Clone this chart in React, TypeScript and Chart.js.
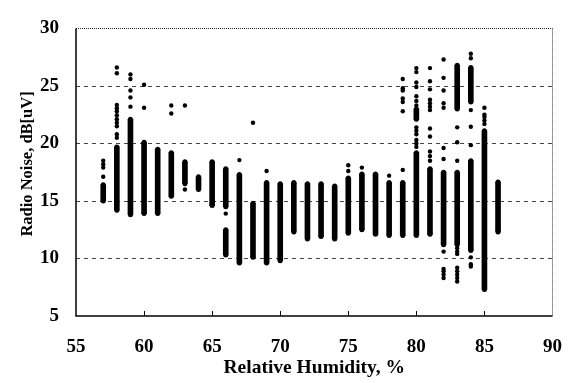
import React, { useEffect, useRef } from "react";
import { Chart, registerables } from "chart.js";

Chart.register(...registerables);

// Axis ticks
const humidityTicks = [55, 60, 65, 70, 75, 80, 85, 90];
const noiseTicks = [5, 10, 15, 20, 25, 30];
const gridNoise = [10, 15, 20, 25];

// Dense (continuous-looking) runs of points: humidity, low, high
const segHumidity = [57, 58, 59, 60, 61, 62, 63, 64, 65, 66, 66, 67, 68, 69, 70, 71, 72, 73, 74, 75, 76, 77, 78, 79, 80, 80, 81, 82, 83, 83, 84, 84, 85, 86];
const segLow = [15.0, 14.2, 13.8, 13.9, 13.9, 15.4, 16.5, 16.0, 14.6, 14.5, 10.3, 9.6, 10.1, 9.6, 9.8, 12.3, 11.7, 11.9, 11.7, 12.2, 12.5, 12.1, 12.0, 12.0, 12.0, 22.1, 12.1, 11.2, 11.2, 23.0, 10.7, 23.6, 7.3, 12.3];
const segHigh = [16.4, 19.7, 22.1, 20.1, 19.5, 19.2, 18.4, 17.1, 18.4, 17.8, 12.5, 17.3, 14.8, 16.6, 16.5, 16.6, 16.5, 16.5, 16.3, 17.0, 17.35, 17.35, 16.6, 16.6, 19.2, 23.0, 17.8, 17.5, 17.5, 26.8, 18.5, 26.6, 21.1, 16.65];

// Scattered individual readings
const dotHumidity = [
  57, 57, 57, 57,
  58, 58, 58, 58, 58, 58, 58, 58, 58, 58, 58,
  59, 59, 59, 59, 59,
  60, 60,
  62, 62,
  63, 63,
  66,
  67,
  68,
  69,
  75, 75,
  76,
  78,
  79, 79, 79, 79, 79, 79, 79,
  80, 80, 80, 80, 80, 80, 80, 80, 80, 80, 80, 80, 80,
  81, 81, 81, 81, 81, 81, 81, 81, 81, 81, 81, 81,
  82, 82, 82, 82, 82, 82, 82, 82, 82, 82, 82, 82,
  83, 83, 83, 83, 83, 83, 83, 83, 83, 83, 83,
  84, 84, 84, 84, 84, 84, 84, 84,
  85, 85, 85, 85, 85,
];
const dotNoise = [
  17.1, 17.9, 18.2, 18.5,
  20.5, 20.8, 21.5, 21.8, 22.1, 22.45, 22.8, 23.06, 23.34, 26.1, 26.6,
  23.2, 24.0, 24.6, 25.6, 26.0,
  23.1, 25.1,
  22.6, 23.3,
  16.0, 23.3,
  13.9,
  18.55,
  21.8,
  17.6,
  17.6, 18.1,
  17.9,
  17.2,
  17.7, 22.8, 23.6, 23.9, 24.6, 24.8, 25.6,
  19.7, 20.0, 20.3, 20.8, 21.1, 21.4, 23.3, 23.7, 24.1, 24.9, 25.3, 26.2, 26.55,
  18.5, 18.9, 19.3, 20.6, 21.3, 22.9, 23.2, 23.5, 23.8, 24.7, 25.4, 26.55,
  10.6, 9.1, 8.9, 8.6, 8.3, 18.65, 19.6, 23.1, 23.5, 24.6, 25.7, 27.3,
  10.9, 10.6, 10.4, 9.2, 8.9, 8.6, 8.3, 8.0, 21.4, 20.1, 18.5,
  27.8, 27.4, 22.9, 21.45, 19.85, 10.1, 9.5, 9.3,
  21.7, 22.0, 22.3, 22.5, 23.1,
];

const FONT = "'Liberation Serif', 'Times New Roman', serif";

const framePlugin = {
  id: "frame",
  beforeDatasetsDraw(chart: any) {
    const { ctx, chartArea, scales } = chart;
    const x = scales.x;
    const y = scales.y;
    const { left, right, top, bottom } = chartArea;
    ctx.save();
    // dashed grid lines
    ctx.strokeStyle = "#444";
    ctx.lineWidth = 1;
    ctx.setLineDash([4, 4]);
    gridNoise.forEach((v) => {
      const py = Math.round(y.getPixelForValue(v)) + 0.5;
      ctx.beginPath();
      ctx.moveTo(left, py);
      ctx.lineTo(right, py);
      ctx.stroke();
    });
    // dotted top and right borders
    ctx.setLineDash([1, 1]);
    ctx.strokeStyle = "#333";
    ctx.beginPath();
    ctx.moveTo(left, Math.round(top) + 0.5);
    ctx.lineTo(right, Math.round(top) + 0.5);
    ctx.moveTo(Math.round(right) - 0.5, top);
    ctx.lineTo(Math.round(right) - 0.5, bottom);
    ctx.stroke();
    // solid left and bottom axes
    ctx.setLineDash([]);
    ctx.strokeStyle = "#000";
    ctx.lineWidth = 1.5;
    ctx.beginPath();
    ctx.moveTo(left, top);
    ctx.lineTo(left, bottom);
    ctx.lineTo(right, bottom);
    ctx.stroke();
    // small inward tick marks on the x axis
    ctx.lineWidth = 1;
    humidityTicks.slice(1, -1).forEach((v) => {
      const px = Math.round(x.getPixelForValue(v)) + 0.5;
      ctx.beginPath();
      ctx.moveTo(px, bottom);
      ctx.lineTo(px, bottom - 5);
      ctx.stroke();
    });
    ctx.restore();
  },
};

export default function App() {
  const ref = useRef<HTMLCanvasElement | null>(null);

  useEffect(() => {
    if (!ref.current) return;
    const bars = segHumidity.map((h, i) => ({ x: h, y: [segLow[i], segHigh[i]] }));
    const ends: { x: number; y: number }[] = [];
    segHumidity.forEach((h, i) => {
      ends.push({ x: h, y: segLow[i] });
      ends.push({ x: h, y: segHigh[i] });
    });
    const dots = dotHumidity.map((h, i) => ({ x: h, y: dotNoise[i] }));

    const chart = new Chart(ref.current, {
      type: "bar",
      data: {
        datasets: [
          {
            type: "bar",
            data: bars as any,
            backgroundColor: "#000",
            borderWidth: 0,
            barThickness: 5,
            grouped: false,
          } as any,
          {
            type: "scatter",
            data: ends,
            pointRadius: 2.5,
            pointBorderWidth: 0,
            backgroundColor: "#000",
            borderColor: "#000",
          } as any,
          {
            type: "scatter",
            data: dots,
            pointRadius: 2.2,
            pointBorderWidth: 0,
            backgroundColor: "#000",
            borderColor: "#000",
          } as any,
        ],
      },
      options: {
        animation: false,
        responsive: false,
        layout: { padding: { top: 17, right: 20, left: 0, bottom: 0 } },
        plugins: { legend: { display: false }, tooltip: { enabled: false } },
        scales: {
          x: {
            type: "linear",
            min: 55,
            max: 90,
            offset: false,
            afterBuildTicks: (s: any) => {
              s.ticks = humidityTicks.map((v) => ({ value: v }));
            },
            ticks: {
              font: { family: FONT, size: 19, weight: "bold" },
              color: "#000",
              padding: 20,
              maxRotation: 0,
            },
            grid: { display: false, drawTicks: false, offset: false },
            border: { display: false },
            title: {
              display: true,
              text: "Relative Humidity, %",
              font: { family: FONT, size: 19.5, weight: "bold" },
              color: "#000",
              padding: { top: 0, bottom: 3 },
            },
            afterFit: (s: any) => {
              s.height = 67;
            },
          },
          y: {
            type: "linear",
            min: 5,
            max: 30,
            afterBuildTicks: (s: any) => {
              s.ticks = noiseTicks.map((v) => ({ value: v }));
            },
            ticks: {
              font: { family: FONT, size: 19, weight: "bold" },
              color: "#000",
              padding: 17,
            },
            grid: { display: false, drawTicks: false },
            border: { display: false },
            title: {
              display: true,
              text: "    Radio Noise, dB[uV]",
              font: { family: FONT, size: 16.5, weight: "bold" },
              color: "#000",
              padding: { top: 17.5, bottom: 0 },
            },
            afterFit: (s: any) => {
              s.width = 76;
            },
          },
        },
      } as any,
      plugins: [framePlugin],
    });
    return () => chart.destroy();
  }, []);

  return (
    <canvas
      ref={ref}
      width={582}
      height={383}
      style={{ position: "absolute", left: 0, top: 0, width: 582, height: 383, display: "block" }}
    />
  );
}
